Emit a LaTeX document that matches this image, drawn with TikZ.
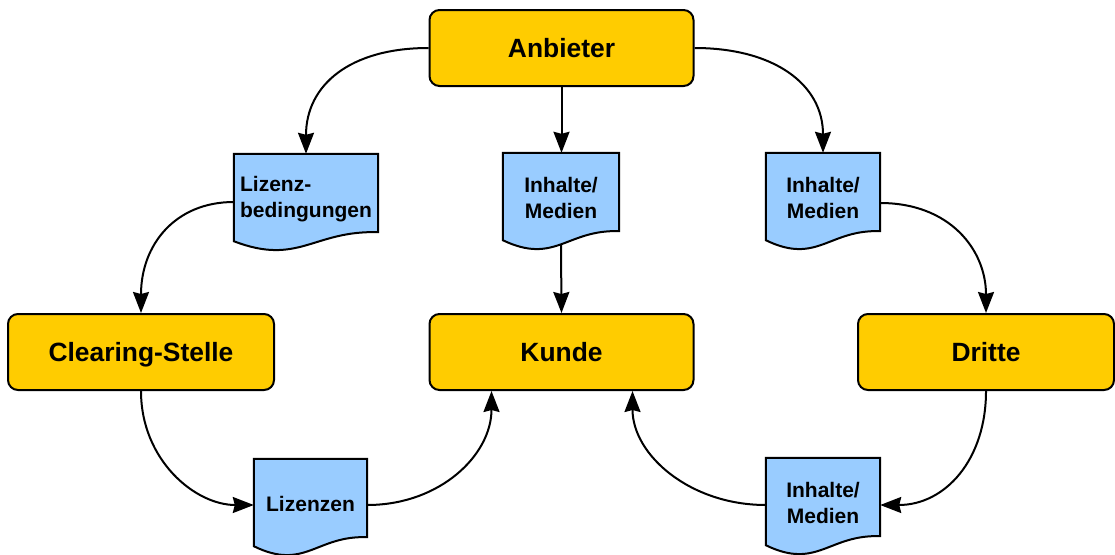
\documentclass[tikz,border=0pt]{standalone}
\usepackage{fontspec}
\setmainfont{Liberation Sans}
\usetikzlibrary{arrows.meta,calc,backgrounds}
\definecolor{boxyellow}{HTML}{FFCC00}
\definecolor{docblue}{HTML}{99CCFF}
\tikzset{
  actor/.style={draw=black, line width=2pt, fill=boxyellow, rounded corners=10pt,
    minimum width=264pt, minimum height=76pt, inner sep=0pt,
    text height=18.8pt, text depth=0pt,
    font=\fontsize{26.4}{31}\selectfont\bfseries},
  docnode/.style={inner sep=0pt, minimum height=90pt,
    font=\fontsize{21}{26}\selectfont\bfseries},
  docline/.style={draw=black, line width=2pt, fill=docblue, line join=miter},
  flow/.style={draw=black, line width=2pt,
    -{Stealth[length=21pt,width=16pt,inset=2pt]}},
}
\newcommand\docshape[1]{%
  \path[docline] (#1.north west) -- (#1.north east) -- ($(#1.south east)+(0,-12)$)
    .. controls ($(#1.south east)!0.45!(#1.south west)+(0,-14)$)
    and ($(#1.south west)!0.45!(#1.south east)+(0,22)$) ..
    ($(#1.south west)+(0,-3)$) -- cycle;}
\begin{document}
\begin{tikzpicture}[x=1pt,y=-1pt]
\useasboundingbox (0,0) rectangle (1115,554);
% actors
\node[actor] (anb) at (561.5,48) {Anbieter};
\node[actor, minimum width=266pt] (clr) at (141,352) {Clearing-Stelle};
\node[actor] (kun) at (561.5,352) {Kunde};
\node[actor, minimum width=256pt] (dri) at (986,352) {Dritte};
% documents
\node[docnode, minimum width=144pt, align=left] (lzb) at (306,199) {Lizenz-\\bedingungen};
\node[docnode, minimum width=116pt, align=center] (med1) at (561,198) {Inhalte/\\Medien};
\node[docnode, minimum width=114pt, align=center] (med2) at (823,198) {Inhalte/\\Medien};
\node[docnode, minimum width=113pt, align=center] (liz) at (310.5,504) {Lizenzen};
\node[docnode, minimum width=114pt, align=center] (med3) at (823,503) {Inhalte/\\Medien};
\begin{scope}[on background layer]
  \docshape{lzb}
  \docshape{med1}
  \docshape{med2}
  \docshape{liz}
  \docshape{med3}
\end{scope}
% connectors
\draw[flow] (anb.west) .. controls (350,48) and (306,85) .. (lzb.north);
\draw[flow] (anb.south) -- (anb.south |- med1.north);
\draw[flow] (anb.east) .. controls (775,48) and (823,85) .. (med2.north);
\draw[flow] (lzb.west |- 0,202) .. controls (175,202) and (141,245) .. (clr.north);
\draw[flow] ($(med1.south)+(0,2)$) -- (kun.north);
\draw[flow] (med2.east |- 0,203) .. controls (950,203) and (986,250) .. (dri.north);
\draw[flow] (clr.south) .. controls (141,460) and (195,505) .. (liz.west |- 0,505);
\draw[flow] (liz.east |- 0,505) .. controls (440,505) and (491.5,455) .. ($(kun.south)+(-70,0)$);
\draw[flow] (dri.south) .. controls (986,460) and (945,505) .. (med3.east |- 0,505);
\draw[flow] (med3.west |- 0,505) .. controls (690,505) and (632.5,455) .. ($(kun.south)+(71,0)$);
\end{tikzpicture}
\end{document}
